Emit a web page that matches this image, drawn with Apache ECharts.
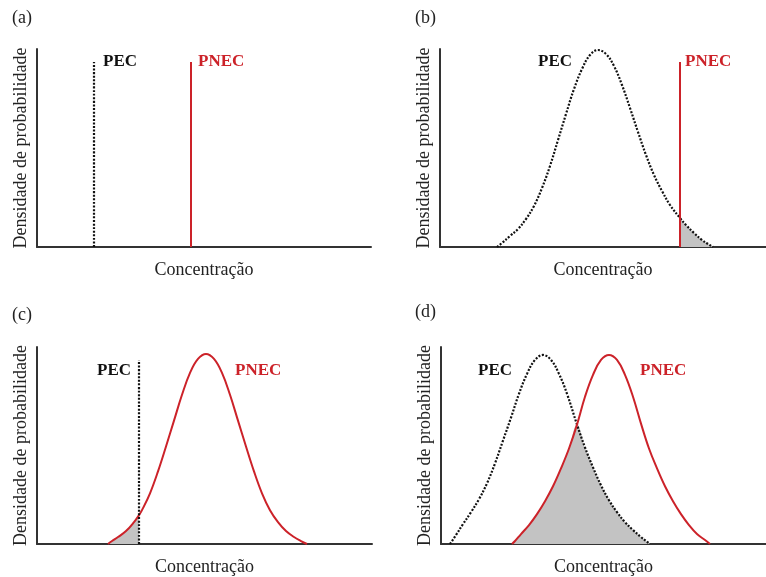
<!DOCTYPE html>
<html>
<head>
<meta charset="utf-8">
<script src="https://cdn.jsdelivr.net/npm/echarts@6/dist/echarts.min.js"></script>
<style>
  html, body { margin: 0; padding: 0; background: #fff; }
  #chart { width: 766px; height: 577px; }
</style>
</head>
<body>
<div id="chart"></div>
<script>
// arbitrary units: concentration along x, density along y (axis top = 198)
var panelTags = ['(a)', '(b)', '(c)', '(d)'];
var xName = 'Concentração';
var yName = 'Densidade de probabilidade';

// (a) two fixed values
var aPec = 57, aPnec = 154;
// (b) PEC distribution, PNEC fixed
var bPecX = [57, 62, 70, 78, 86, 94, 102, 110, 118, 126, 134, 142, 150, 158, 166, 174, 182, 190, 198, 206, 214, 222, 230, 240, 246, 254, 262, 268, 273];
var bPecY = [0, 4, 11, 18, 28, 41, 59, 81, 107, 133, 158, 178, 192, 197, 193, 181, 162, 139, 115, 92, 72, 56, 42, 29, 22, 14, 7, 3, 0];
var bPnec = 240;
// (c) PEC fixed, PNEC distribution
var cPnecX = [71, 75, 81, 89, 97, 102, 105, 113, 121, 129, 137, 145, 153, 161, 169, 177, 185, 193, 201, 209, 217, 225, 233, 241, 249, 257, 264, 270];
var cPnecY = [0, 3, 7, 13, 22, 29, 34, 51, 73, 98, 124, 150, 172, 186, 191, 186, 172, 150, 124, 98, 73, 51, 34, 22, 13, 7, 3, 0];
var cPec = 102;
// (d) both distributions
var dPecX = [9, 15, 22, 30, 38, 46, 54, 62, 70, 78, 86, 94, 102, 110, 118, 126, 136, 144, 152, 160, 168, 176, 184, 192, 200, 205, 209];
var dPecY = [0, 9, 20, 32, 45, 61, 81, 104, 127, 151, 171, 185, 190, 185, 171, 151, 120, 97, 77, 59, 44, 32, 22, 14, 7, 3, 0];
var dPnecX = [71, 74, 80, 88, 96, 104, 112, 120, 128, 136, 144, 152, 160, 168, 176, 184, 192, 200, 208, 216, 224, 232, 240, 248, 256, 264, 269];
var dPnecY = [0, 3, 10, 19, 30, 43, 58, 76, 96, 120, 148, 170, 185, 190, 185, 170, 148, 121, 96, 76, 58, 43, 30, 19, 10, 4, 0];
var dCross = 136;

var lineTop = 185;
var labelY = [185, 185, 174, 174];
var labelPec = [66, 98, 60, 37];
var labelPnec = [161, 245, 198, 199];

var RED = '#cc2229', GREY = '#c3c3c3', INK = '#222';
var FONT = 'Liberation Serif';

function pts(xs, ys) {
  var out = [];
  for (var i = 0; i < xs.length; i++) out.push([xs[i], ys[i]]);
  return out;
}
function vline(x) { return [[x, 0], [x, lineTop]]; }

var grids = [
  {left: 37, top: 49, width: 334, height: 198},
  {left: 440, top: 49, width: 326, height: 198},
  {left: 37, top: 347, width: 335, height: 198},
  {left: 441, top: 347, width: 325, height: 198}
];

var xAxes = [], yAxes = [], titles = [];
var tagPos = [[12, 9], [415, 9], [12, 306], [415, 303]];
grids.forEach(function(g, i){
  xAxes.push({
    gridIndex: i, type: 'value', min: 0, max: g.width,
    name: xName, nameLocation: 'middle', nameGap: 14,
    nameTextStyle: {fontFamily: FONT, fontSize: 18, color: INK},
    axisLine: {lineStyle: {color: '#333', width: 2}},
    axisTick: {show: false}, axisLabel: {show: false}, splitLine: {show: false}
  });
  yAxes.push({
    gridIndex: i, type: 'value', min: 0, max: 198,
    name: yName, nameLocation: 'middle', nameGap: 7,
    nameTextStyle: {fontFamily: FONT, fontSize: 18, color: INK},
    axisLine: {lineStyle: {color: '#333', width: 2}},
    axisTick: {show: false}, axisLabel: {show: false}, splitLine: {show: false}
  });
  titles.push({
    text: panelTags[i], left: tagPos[i][0], top: tagPos[i][1], padding: 0,
    textStyle: {fontFamily: FONT, fontSize: 18, fontWeight: 'normal', color: INK}
  });
});

function curve(i, data, color, dotted) {
  return {
    type: 'line', xAxisIndex: i, yAxisIndex: i, data: data,
    smooth: 0.4, symbol: 'none', z: 3,
    lineStyle: {color: color, width: dotted ? 2.2 : 2, type: dotted ? [2, 1.6] : 'solid'}
  };
}
function shade(i, data) {
  return {
    type: 'line', xAxisIndex: i, yAxisIndex: i, data: data,
    smooth: 0.4, symbol: 'none', z: 1,
    lineStyle: {width: 0}, areaStyle: {color: GREY, opacity: 1}
  };
}
function tags(i) {
  return {
    type: 'scatter', xAxisIndex: i, yAxisIndex: i, symbolSize: 0,
    itemStyle: {opacity: 1},
    data: [
      {name: 'PEC', value: [labelPec[i], labelY[i]], label: {color: '#111'}},
      {name: 'PNEC', value: [labelPnec[i], labelY[i]], label: {color: RED}}
    ],
    label: {show: true, formatter: '{b}', position: 'right', distance: 0, opacity: 1,
      fontFamily: FONT, fontSize: 17, fontWeight: 'bold'}
  };
}

var bPec = pts(bPecX, bPecY);
var cPnec = pts(cPnecX, cPnecY);
var dPec = pts(dPecX, dPecY);
var dPnec = pts(dPnecX, dPnecY);

var series = [
  // (a)
  curve(0, vline(aPec), '#111', true),
  curve(0, vline(aPnec), RED, false),
  tags(0),
  // (b)
  shade(1, bPec.filter(function(p){ return p[0] >= bPnec; })),
  curve(1, bPec, '#111', true),
  curve(1, vline(bPnec), RED, false),
  tags(1),
  // (c)
  shade(2, cPnec.filter(function(p){ return p[0] <= cPec; })),
  curve(2, cPnec, RED, false),
  curve(2, vline(cPec), '#111', true),
  tags(2),
  // (d)
  shade(3, dPnec.filter(function(p){ return p[0] <= dCross; })
    .concat(dPec.filter(function(p){ return p[0] > dCross; }))),
  curve(3, dPec, '#111', true),
  curve(3, dPnec, RED, false),
  tags(3)
];

var chart = echarts.init(document.getElementById('chart'));
chart.setOption({
  animation: false,
  backgroundColor: '#fff',
  title: titles,
  grid: grids,
  xAxis: xAxes,
  yAxis: yAxes,
  series: series
});
</script>
</body>
</html>
